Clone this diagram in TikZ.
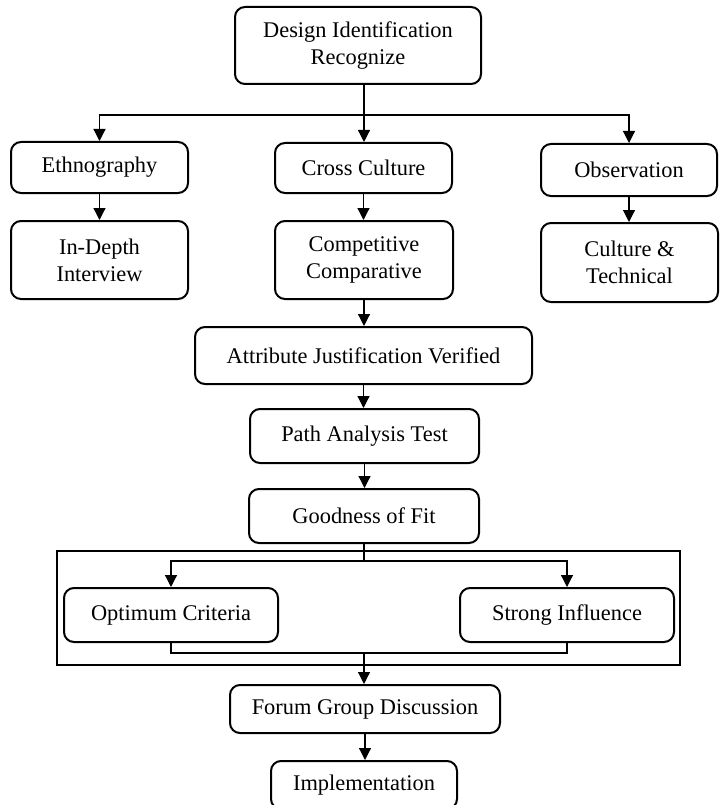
\documentclass[tikz,border=0pt]{standalone}
\usepackage{fontspec}
\setmainfont{Liberation Serif}
\usetikzlibrary{arrows.meta}
\begin{document}
\begin{tikzpicture}[x=1pt,y=-1pt,
  box/.style={draw, line width=2pt, rounded corners=10pt, inner sep=0pt, align=center,
     font=\fontsize{22.4}{27}\selectfont},
  frame/.style={draw, line width=2pt, inner sep=0pt},
  conn/.style={line width=1.2pt},
  arr/.style={line width=1.2pt, -{Triangle[length=12pt,width=12pt]}}]
\useasboundingbox (0,0) rectangle (720,805);
\node[box, minimum width=246pt, minimum height=77pt] (top) at (358,45.5) {Design Identification\\Recognize};
\node[box, minimum width=177pt, minimum height=51pt] (eth) at (99.5,167.5) {Ethnography};
\node[box, minimum width=177pt, minimum height=50pt] (cross) at (363.5,168) {Cross Culture};
\node[box, minimum width=176pt, minimum height=52pt] (obs) at (629,170) {Observation};
\node[box, minimum width=177pt, minimum height=78pt] (indepth) at (99.5,260) {In-Depth\\Interview};
\node[box, minimum width=178pt, minimum height=78pt] (comp) at (364,260) {Competitive\\Comparative};
\node[box, minimum width=177pt, minimum height=79pt] (cult) at (629.5,262.5) {Culture \&\\Technical};
\node[box, minimum width=337pt, minimum height=57pt] (attr) at (363.5,355.5) {Attribute Justification Verified};
\node[box, minimum width=229pt, minimum height=54pt] (path) at (364.5,436) {Path Analysis Test};
\node[box, minimum width=230pt, minimum height=54pt] (good) at (364,516) {Goodness of Fit};
\node[frame, minimum width=623pt, minimum height=114pt] (fr) at (368,608) {};
\node[box, minimum width=214pt, minimum height=54pt] (opt) at (171,615) {Optimum Criteria};
\node[box, minimum width=214pt, minimum height=54pt] (strong) at (567,615) {Strong Influence};
\node[box, minimum width=270pt, minimum height=48pt] (forum) at (365,709) {Forum Group Discussion};
\node[box, minimum width=186pt, minimum height=48pt] (impl) at (364,785) {Implementation};
\coordinate (j1) at (364,115);
\coordinate (j2) at (364,561);
\coordinate (j3) at (364,653);
\draw[conn] ([xshift=6pt]top.south) -- (j1);
\draw[arr] (j1) -| (eth.north);
\draw[arr] (j1) -| (obs.north);
\draw[arr] (j1) -- (j1 |- cross.north);
\draw[arr] (eth) -- (indepth);
\draw[arr] (cross) -- (cross |- comp.north);
\draw[arr] (obs) -- (obs |- cult.north);
\draw[arr] (comp) -- (comp |- attr.north);
\draw[arr] (attr) -- (attr |- path.north);
\draw[arr] (path) -- (path |- good.north);
\draw[conn] (good.south) -- (good.south |- j2);
\draw[arr] (good.south |- j2) -| (opt.north);
\draw[arr] (good.south |- j2) -| (strong.north);
\draw[conn] (opt.south) |- (j3);
\draw[conn] (strong.south) |- (j3);
\draw[arr] (j3) -- (j3 |- forum.north);
\draw[arr] (forum) -- (forum |- impl.north);
\end{tikzpicture}
\end{document}
